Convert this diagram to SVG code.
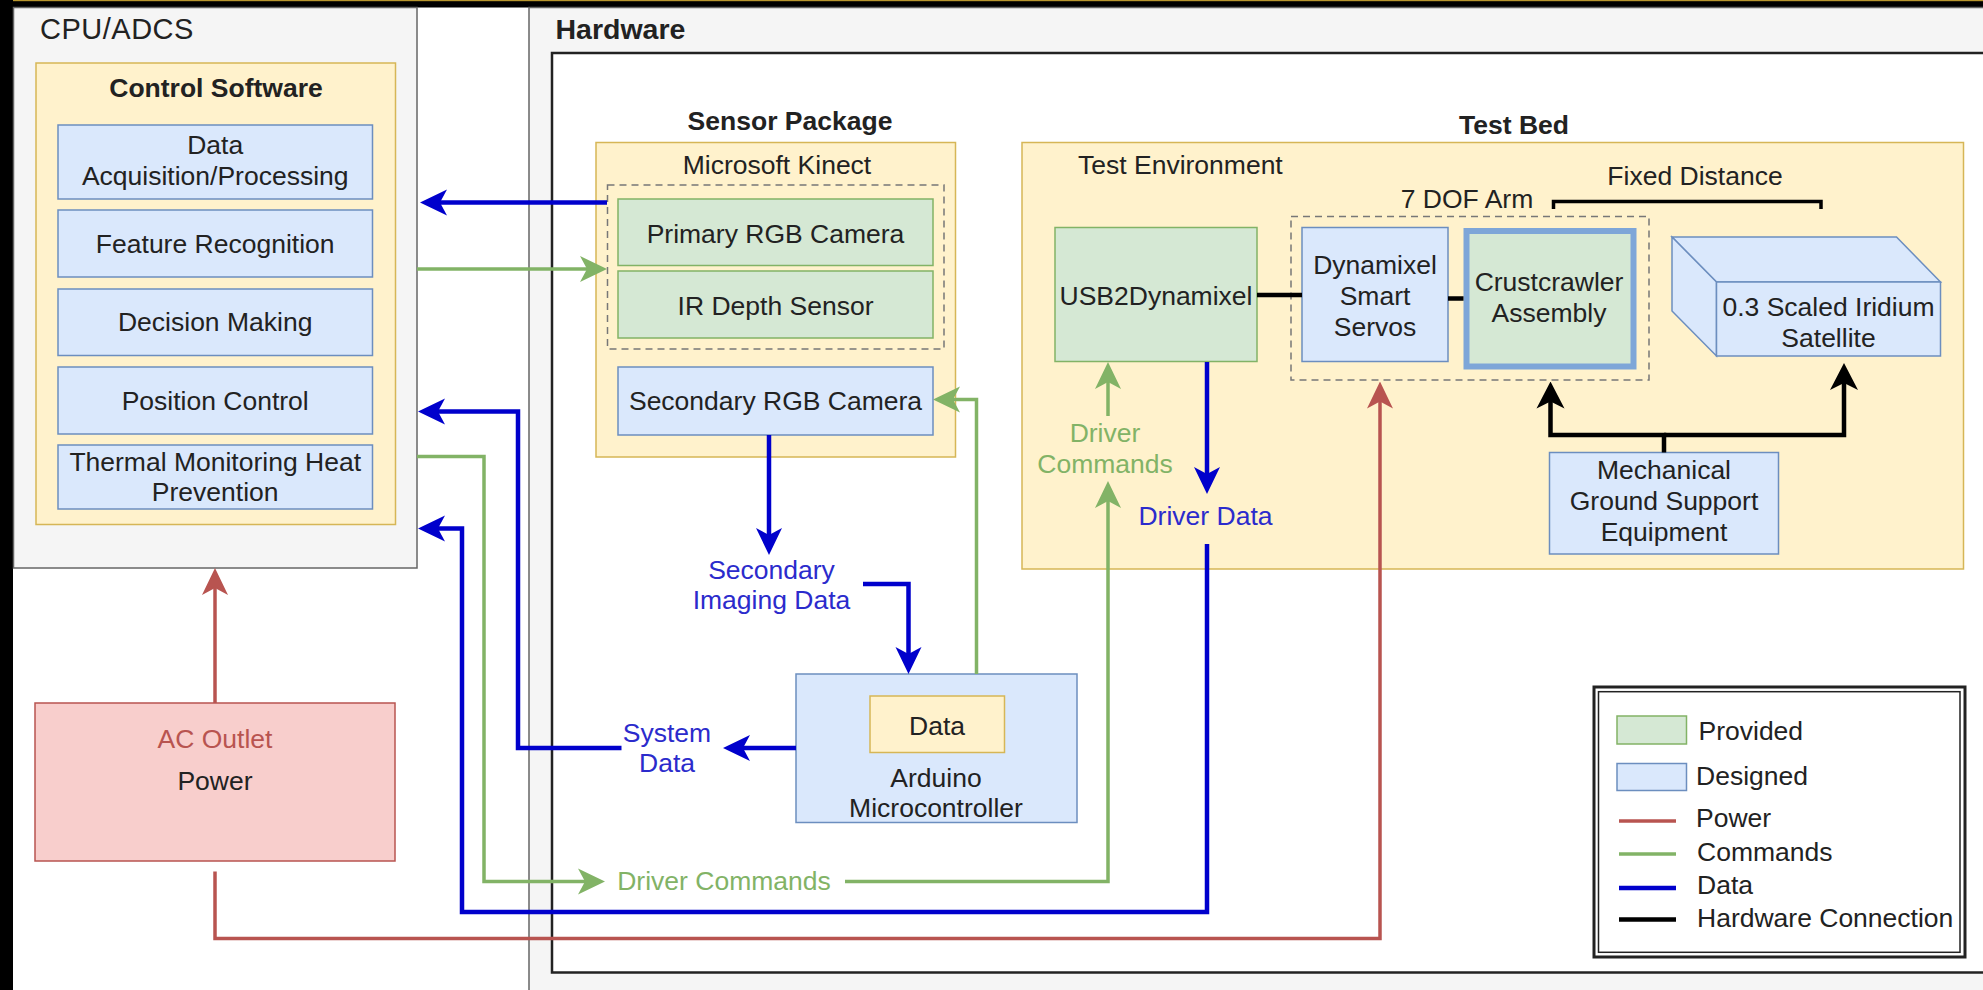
<svg xmlns="http://www.w3.org/2000/svg" width="1983" height="990" viewBox="0 0 1983 990">
<style>
text{font-family:"Liberation Sans",Arial,sans-serif;font-size:26.5px;fill:#222}
.c{text-anchor:middle}
.b{font-weight:bold}
.cont{fill:#f5f5f5;stroke:#666;stroke-width:1.5}
.yel{fill:#fff2cc;stroke:#d6b656;stroke-width:1.5}
.blu{fill:#dae8fc;stroke:#6c8ebf;stroke-width:1.5}
.grn{fill:#d5e8d4;stroke:#82b366;stroke-width:1.5}
.red{fill:#f8cecc;stroke:#b85450;stroke-width:1.5}
.dash{fill:none;stroke:#777;stroke-width:1.5;stroke-dasharray:7 5}
.lb{fill:none;stroke:#0000cc;stroke-width:4.5}
.lg{fill:none;stroke:#82b366;stroke-width:3.5}
.lr{fill:none;stroke:#b85450;stroke-width:3.5}
.lk{fill:none;stroke:#000;stroke-width:4.5}
.tb{fill:#2b2bcc}
.tg{fill:#82b366}
.tr{fill:#b85450}
</style>
<defs>
<marker id="aB" markerUnits="userSpaceOnUse" markerWidth="30" markerHeight="30" viewBox="0 0 30 30" refX="20" refY="15" orient="auto"><path d="M30,15 L3,2 L10,15 L3,28 Z" fill="#0000cc"/></marker>
<marker id="aG" markerUnits="userSpaceOnUse" markerWidth="30" markerHeight="30" viewBox="0 0 30 30" refX="20" refY="15" orient="auto"><path d="M30,15 L3,2 L10,15 L3,28 Z" fill="#82b366"/></marker>
<marker id="aR" markerUnits="userSpaceOnUse" markerWidth="30" markerHeight="30" viewBox="0 0 30 30" refX="20" refY="15" orient="auto"><path d="M30,15 L3,2 L10,15 L3,28 Z" fill="#b85450"/></marker>
<marker id="aK" markerUnits="userSpaceOnUse" markerWidth="30" markerHeight="30" viewBox="0 0 30 30" refX="20" refY="15" orient="auto"><path d="M30,15 L3,1 L10,15 L3,29 Z" fill="#000"/></marker>
</defs>
<rect x="0" y="0" width="1983" height="990" fill="#fff"/>
<rect x="0" y="0" width="1983" height="7.5" fill="#000"/>
<rect x="0" y="0" width="1983" height="1.2" fill="#b8962e"/>
<rect x="0" y="0" width="13" height="990" fill="#000"/>

<g id="cpu-adcs">
<rect class="cont" x="13.5" y="7.5" width="403.5" height="560.5"/>
<text x="40" y="39" style="font-size:29px;letter-spacing:0.5px">CPU/ADCS</text>
</g>
<g id="hardware">
<rect class="cont" x="529" y="7.5" width="1470" height="1000"/>
<text x="555.5" y="39" class="b" style="font-size:28.5px">Hardware</text>
<rect x="552" y="53" width="1450" height="919.5" fill="#fff" stroke="#222" stroke-width="2.5"/>
</g>

<g id="control-software">
<rect class="yel" x="36" y="63" width="359.5" height="461.5"/>
<text x="216" y="97" class="c b">Control Software</text>
</g>
<g id="data-acquisition">
<rect class="blu" x="58" y="125" width="314.5" height="74"/>
<text x="215.2" y="153.5" class="c">Data</text>
<text x="215.2" y="185" class="c">Acquisition/Processing</text>
</g>
<g id="feature-recognition">
<rect class="blu" x="58" y="210" width="314.5" height="67"/>
<text x="215.2" y="253" class="c">Feature Recognition</text>
</g>
<g id="decision-making">
<rect class="blu" x="58" y="289" width="314.5" height="66.5"/>
<text x="215.2" y="331" class="c">Decision Making</text>
</g>
<g id="position-control">
<rect class="blu" x="58" y="367" width="314.5" height="67"/>
<text x="215.2" y="410" class="c">Position Control</text>
</g>
<g id="thermal-monitoring">
<rect class="blu" x="58" y="445" width="314.5" height="64"/>
<text x="215.2" y="470.5" class="c">Thermal Monitoring Heat</text>
<text x="215.2" y="501" class="c">Prevention</text>
</g>

<g id="ac-outlet">
<rect class="red" x="35" y="703" width="360" height="158"/>
<text x="215" y="748" class="c tr">AC Outlet</text>
<text x="215" y="790" class="c">Power</text>
</g>

<g id="sensor-package">
<text x="790" y="129.5" class="c b">Sensor Package</text>
</g>
<g id="microsoft-kinect">
<rect class="yel" x="596" y="142.5" width="359.5" height="314.5"/>
<text x="777" y="174" class="c">Microsoft Kinect</text>
<rect class="dash" x="607.5" y="185" width="336.5" height="164"/>
</g>
<g id="primary-rgb-camera">
<rect class="grn" x="618" y="199" width="315" height="66.5"/>
<text x="775.5" y="242.5" class="c">Primary RGB Camera</text>
</g>
<g id="ir-depth-sensor">
<rect class="grn" x="618" y="271" width="315" height="67"/>
<text x="775.5" y="314.5" class="c">IR Depth Sensor</text>
</g>
<g id="secondary-rgb-camera">
<rect class="blu" x="618" y="367" width="315" height="68"/>
<text x="775.5" y="410" class="c">Secondary RGB Camera</text>
</g>

<g id="arduino">
<rect class="blu" x="796" y="674" width="281" height="148.5"/>
<rect class="yel" x="870" y="696" width="134.5" height="56.5"/>
<text x="937" y="735" class="c">Data</text>
<text x="936" y="786.5" class="c">Arduino</text>
<text x="936" y="816.5" class="c">Microcontroller</text>
</g>

<g id="test-bed">
<text x="1514" y="134" class="c b">Test Bed</text>
<rect class="yel" x="1022" y="142.5" width="941.5" height="426.5"/>
<text x="1078" y="174">Test Environment</text>
</g>
<g id="usb2dynamixel">
<rect class="grn" x="1055" y="227.5" width="202" height="134"/>
<text x="1156" y="304.5" class="c">USB2Dynamixel</text>
</g>
<g id="dof-arm">
<text x="1467" y="208" class="c">7 DOF Arm</text>
<rect class="dash" x="1291" y="216.5" width="358" height="163.5"/>
</g>
<g id="dynamixel-servos">
<rect class="blu" x="1302" y="227.5" width="146" height="134"/>
<text x="1375" y="273.5" class="c">Dynamixel</text>
<text x="1375" y="305" class="c">Smart</text>
<text x="1375" y="336" class="c">Servos</text>
</g>
<g id="crustcrawler">
<rect x="1466.5" y="231" width="167" height="135.5" fill="#d5e8d4" stroke="#7ea6d8" stroke-width="6"/>
<text x="1549" y="290.5" class="c">Crustcrawler</text>
<text x="1549" y="321.5" class="c">Assembly</text>
</g>
<g id="fixed-distance">
<text x="1695" y="185" class="c">Fixed Distance</text>
</g>
<g id="satellite">
<path d="M1672,237 L1896.5,237 L1940.5,282 L1716.5,282 Z" fill="#dae8fc" stroke="#6c8ebf" stroke-width="1.5"/>
<path d="M1672,237 L1716.5,282 L1716.5,356 L1672,311 Z" fill="#dae8fc" stroke="#6c8ebf" stroke-width="1.5"/>
<rect class="blu" x="1716.5" y="282" width="224" height="74"/>
<text x="1828.5" y="316" class="c">0.3 Scaled Iridium</text>
<text x="1828.5" y="346.5" class="c">Satellite</text>
</g>
<g id="mgse">
<rect class="blu" x="1549.5" y="452.5" width="229" height="101.5"/>
<text x="1664" y="479" class="c">Mechanical</text>
<text x="1664" y="510" class="c">Ground Support</text>
<text x="1664" y="541" class="c">Equipment</text>
</g>

<g id="legend">
<rect x="1594" y="687" width="371" height="270" fill="#fff" stroke="#222" stroke-width="3"/>
<rect x="1598.5" y="691.7" width="361.5" height="260.6" fill="none" stroke="#222" stroke-width="1.5"/>
<rect class="grn" x="1617" y="716" width="69.5" height="28"/>
<text x="1698.5" y="739.5">Provided</text>
<rect class="blu" x="1617" y="763.5" width="69.5" height="27"/>
<text x="1696" y="785">Designed</text>
<line x1="1619" y1="821" x2="1676" y2="821" stroke="#b85450" stroke-width="3.5"/>
<text x="1696" y="826.5">Power</text>
<line x1="1619" y1="854" x2="1676" y2="854" stroke="#82b366" stroke-width="3.5"/>
<text x="1697" y="860.5">Commands</text>
<line x1="1619" y1="888" x2="1676" y2="888" stroke="#0000cc" stroke-width="4.5"/>
<text x="1697" y="893.5">Data</text>
<line x1="1619" y1="919.5" x2="1676" y2="919.5" stroke="#000" stroke-width="4.5"/>
<text x="1697" y="926.5">Hardware Connection</text>
</g>

<g id="connectors">
<path class="lb" d="M607,202.5 H430" marker-end="url(#aB)"/>
<path class="lg" d="M417,269 H597" marker-end="url(#aG)"/>
<path class="lb" d="M621.5,748 H518 V411.5 H428" marker-end="url(#aB)"/>
<path class="lg" d="M417,456.5 H484 V881.5 H595" marker-end="url(#aG)"/>
<path class="lb" d="M1207,544 V912 H462 V528.5 H428" marker-end="url(#aB)"/>
<path class="lb" d="M769,435 V545" marker-end="url(#aB)"/>
<path class="lb" d="M863,584 H908.5 V664" marker-end="url(#aB)"/>
<path class="lg" d="M976.5,674 V399.5 H943" marker-end="url(#aG)"/>
<path class="lb" d="M796,748 H733" marker-end="url(#aB)"/>
<path class="lr" d="M215,703 V578" marker-end="url(#aR)"/>
<path class="lr" d="M215,871.5 V938.5 H1380 V391.5" marker-end="url(#aR)"/>
<path class="lg" d="M845,881.5 H1108 V491" marker-end="url(#aG)"/>
<path class="lg" d="M1108,416 V372" marker-end="url(#aG)"/>
<path class="lb" d="M1207,362 V484" marker-end="url(#aB)"/>
<path class="lk" d="M1664,452.5 V435 H1550.5 V391.5" marker-end="url(#aK)" stroke-linejoin="miter"/>
<path class="lk" d="M1664,435 H1844 V373" marker-end="url(#aK)"/>
<path class="lk" d="M1257,295 H1302"/>
<path class="lk" d="M1448,298.5 H1463.5"/>
<path d="M1553.5,209 V201.5 H1821 V209" fill="none" stroke="#000" stroke-width="3.5"/>
<text x="771.5" y="578.5" class="c tb">Secondary</text>
<text x="771.5" y="608.5" class="c tb">Imaging Data</text>
<text x="667" y="741.5" class="c tb">System</text>
<text x="667" y="771.5" class="c tb">Data</text>
<text x="724" y="890" class="c tg">Driver Commands</text>
<text x="1105" y="442" class="c tg">Driver</text>
<text x="1105" y="473" class="c tg">Commands</text>
<text x="1205.5" y="525" class="c tb">Driver Data</text>
</g>
</svg>
